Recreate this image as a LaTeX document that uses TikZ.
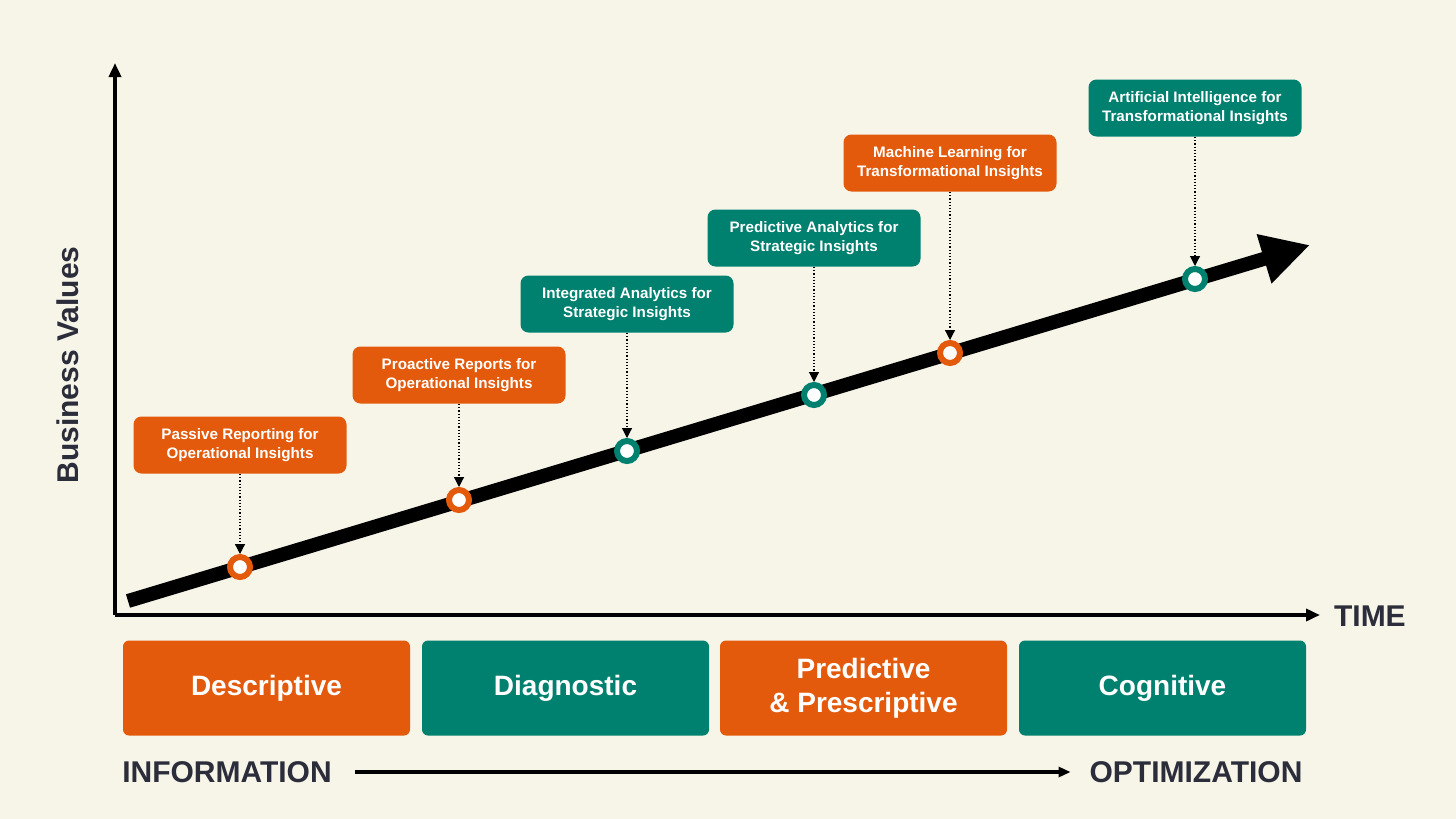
\documentclass[tikz,border=0pt]{standalone}
\usepackage{fontspec}
\setmainfont{Liberation Sans}
\usetikzlibrary{arrows.meta}
\definecolor{bg}{HTML}{F7F4E8}
\definecolor{org}{HTML}{E35A0C}
\definecolor{teal}{HTML}{00806F}
\definecolor{ink}{HTML}{2B2D3A}
\tikzset{
 lbl/.style={fill=#1,rounded corners=4pt,minimum width=106.5pt,minimum height=28.5pt,text=white,font=\bfseries\fontsize{7.6}{9.6}\selectfont,align=center,inner sep=1pt},
 cat/.style={fill=#1,rounded corners=3pt,minimum width=143.5pt,minimum height=47.5pt,text=white,font=\bfseries\fontsize{14}{17}\selectfont,align=center},
 dot/.style={circle,draw=#1,line width=3pt,fill=white,minimum size=10pt,inner sep=0pt},
 ptr/.style={densely dotted,line width=0.6pt,-{Triangle[length=5pt,width=5pt]}},
 big/.style={font=\bfseries\fontsize{15}{18}\selectfont,text=ink}
}
\begin{document}
\begin{tikzpicture}[x=0.5pt,y=-0.5pt]
\fill[bg] (0,0) rectangle (1456,819);
\useasboundingbox (0,0) rectangle (1456,819);
\coordinate (o) at (115,615);
\coordinate (yt) at (115,63);
\coordinate (xt) at (1320,615);
\draw[line width=1.8pt,-{Triangle[length=7pt,width=6pt]}] (o) -- (yt);
\draw[line width=1.8pt,-{Triangle[length=7pt,width=6pt]}] (o) -- (xt);
\node[big,anchor=west] (time) at (1327,616) {TIME};
\node[big,rotate=90] (bv) at (68,365) {Business Values};
\coordinate (s) at (128,601);
\coordinate (e) at (1310,245);
\draw[line width=7pt,-{Triangle[length=24pt,width=24pt]}] (s) -- (e);
\foreach \n/\x/\y/\c in {1/240/567/org,2/459/500/org,3/627/451/teal,4/814/395/teal,5/950/353/org,6/1195/279/teal}
  \node[dot=\c] (d\n) at (\x,\y) {};
\node[lbl=org] (l1) at (240,445) {Passive Reporting for\\Operational Insights};
\node[lbl=org] (l2) at (459,375) {Proactive Reports for\\Operational Insights};
\node[lbl=teal] (l3) at (627,304) {Integrated Analytics for\\Strategic Insights};
\node[lbl=teal] (l4) at (814,238) {Predictive Analytics for\\Strategic Insights};
\node[lbl=org] (l5) at (950,163) {Machine Learning for\\Transformational Insights};
\node[lbl=teal] (l6) at (1195,108) {Artificial Intelligence for\\Transformational Insights};
\foreach \n in {1,...,6} \draw[ptr] (l\n.south) -- (d\n.north);
\node[cat=org] (c1) at (266.5,688) {Descriptive};
\node[cat=teal] (c2) at (565.5,688) {Diagnostic};
\node[cat=org] (c3) at (863.5,688) {Predictive\\\& Prescriptive};
\node[cat=teal] (c4) at (1162.5,688) {Cognitive};
\node[big] (inf) at (227,772) {INFORMATION};
\node[big] (opt) at (1196,772) {OPTIMIZATION};
\draw[line width=1.6pt,-{Triangle[length=6pt,width=5pt]}] ([xshift=8pt]inf.east) -- ([xshift=-6pt]opt.west);
\end{tikzpicture}
\end{document}
